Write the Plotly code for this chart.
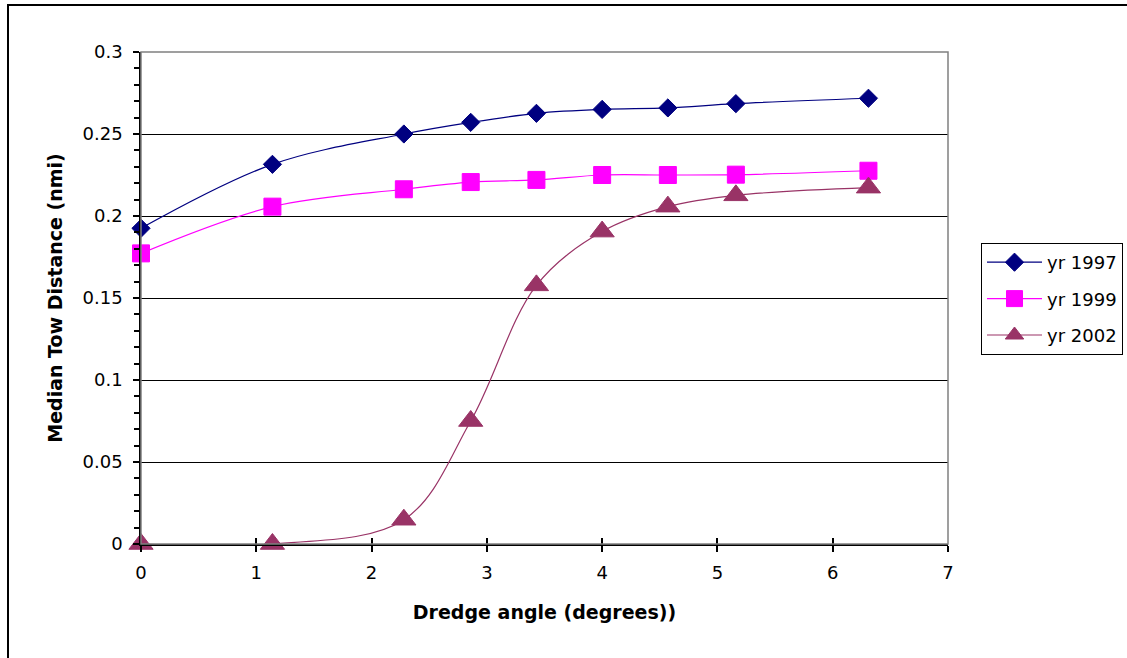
import plotly.graph_objects as go

angle = [0, 1.14, 2.28, 2.86, 3.43, 4.0, 4.57, 5.16, 6.31]
yr1997 = [0.1925, 0.2315, 0.2500, 0.2571, 0.2626, 0.2650, 0.2659, 0.2685, 0.2718]
yr1999 = [0.1772, 0.2057, 0.2163, 0.2207, 0.2220, 0.2250, 0.2250, 0.2252, 0.2276]
yr2002 = [0.0, 0.0, 0.0148, 0.0750, 0.1577, 0.1905, 0.2057, 0.2126, 0.2173]

series = [
    ("yr 1997", yr1997, "#000080", "diamond", 14),
    ("yr 1999", yr1999, "#FF00FF", "square", 17),
    ("yr 2002", yr2002, "#993366", "triangle-up", 21),
]

FONT = "DejaVu Sans"
fig = go.Figure()
for i, (name, ys, col, sym, sz) in enumerate(series):
    fig.add_trace(go.Scatter(
        x=angle, y=ys, name=name, mode="lines+markers",
        line=dict(color=col, width=1.2, shape="spline", smoothing=1.0),
        marker=dict(symbol=sym, size=sz, color=col, line=dict(color=col, width=1)),
        cliponaxis=False, legendgroup=f"g{i}",
    ))

# invisible trace to carry the inside-tick overlay axis
fig.add_trace(go.Scatter(x=[0, 7], y=[0, 0], xaxis="x2", mode="lines",
                         line=dict(width=0), showlegend=False, hoverinfo="skip"))

W, H = 1127, 658
L, R, T, B = 141, 179, 52, 114
pw, ph = W - L - R, H - T - B

def px(xp):
    return (xp - L) / pw

def py(yp):
    return (H - B - yp) / ph

fig.update_layout(
    width=W, height=H,
    margin=dict(l=L, r=R, t=T, b=B, autoexpand=False),
    paper_bgcolor="white", plot_bgcolor="white",
    font=dict(family=FONT, size=18, color="black"),
    showlegend=True,
    legend=dict(
        x=px(981), y=py(243), xanchor="left", yanchor="top",
        bordercolor="black", borderwidth=1, bgcolor="white",
        font=dict(family=FONT, size=18, color="black"),
        itemwidth=55, tracegroupgap=10,
    ),
    xaxis=dict(
        range=[0, 7], dtick=1, tick0=0,
        showgrid=False, zeroline=False,
        showline=True, linecolor="black", linewidth=1.5,
        ticks="outside", ticklen=6, tickcolor="black", tickwidth=1.5,
        ticklabelstandoff=6,
        tickfont=dict(family=FONT, size=18, color="black"),
        title=dict(text="<b>Dredge angle (degrees))</b>",
                   font=dict(family=FONT, size=19, color="black"), standoff=23),
        automargin=False,
    ),
    xaxis2=dict(
        range=[0, 7], dtick=1, tick0=0, overlaying="x", anchor="y", side="bottom",
        ticks="inside", ticklen=6, tickcolor="black", tickwidth=1.5,
        showticklabels=False, showgrid=False, zeroline=False, showline=False,
    ),
    yaxis=dict(
        range=[0, 0.3], dtick=0.05, tick0=0,
        showgrid=True, gridcolor="black", gridwidth=1,
        zeroline=False,
        showline=True, linecolor="black", linewidth=1.5,
        ticks="outside", ticklen=6, tickcolor="black", tickwidth=1.5,
        ticklabelstandoff=7,
        minor=dict(dtick=0.01, ticks="outside", ticklen=5, tickcolor="black",
                   tickwidth=1.5, showgrid=False),
        tickfont=dict(family=FONT, size=18, color="black"),
        title=dict(text="<b>Median Tow Distance (nmi)</b>",
                   font=dict(family=FONT, size=19, color="black"), standoff=15),
        automargin=False,
    ),
    shapes=[
        dict(type="rect", xref="paper", yref="paper", x0=0, y0=0, x1=1, y1=1,
             line=dict(color="#808080", width=1.5), layer="above"),
        dict(type="rect", xref="paper", yref="paper",
             x0=px(8), y0=py(663), x1=px(1135), y1=py(5),
             line=dict(color="black", width=2), layer="below"),
    ],
)

fig.write_html("out.html")
